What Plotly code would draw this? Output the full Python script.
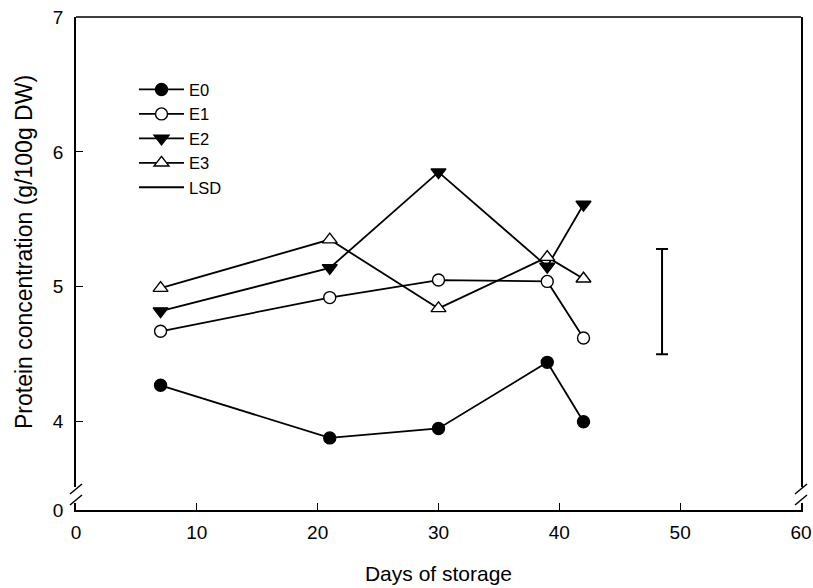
import plotly.graph_objects as go

# Storage time (days) and protein concentration per treatment
days = [7, 21, 30, 39, 42]
e0 = [4.27, 3.88, 3.95, 4.44, 4.00]
e1 = [4.67, 4.92, 5.05, 5.04, 4.62]
e2 = [4.82, 5.14, 5.85, 5.15, 5.61]
e3 = [4.99, 5.35, 4.84, 5.22, 5.06]

# Least significant difference bar
lsd_x = [48.5]
lsd_center = [4.89]
lsd_value = 0.78

x_ticks = [0, 10, 20, 30, 40, 50, 60]
y_ticks = [4, 5, 6, 7]

FONT = "Liberation Sans, Arial, sans-serif"

fig = go.Figure()

series = [
    ("E0", e0, "circle", "black"),
    ("E1", e1, "circle", "white"),
    ("E2", e2, "triangle-down", "black"),
    ("E3", e3, "triangle-up", "white"),
]
for name, vals, sym, fill in series:
    fig.add_trace(go.Scatter(
        x=days, y=vals, name=name, mode="lines+markers",
        line=dict(color="black", width=1.8),
        marker=dict(symbol=sym, size=12 if "circle" in sym else 13, color=fill,
                    line=dict(color="black", width=1.4)),
    ))

fig.add_trace(go.Scatter(
    x=lsd_x, y=lsd_center, name="LSD", mode="lines",
    line=dict(color="black", width=1.8),
    error_y=dict(type="constant", value=lsd_value / 2, color="black",
                 thickness=2, width=6),
))

# empty trace so the short lower axis segment (holding 0) gets drawn
fig.add_trace(go.Scatter(x=[None], y=[None], yaxis="y2", showlegend=False,
                         hoverinfo="skip"))

# axis break marks (paper coordinates)
def px_x(p):
    return (p - 76) / 725

def px_y(p):
    return (510 - p) / 493

shapes = [dict(type="line", xref="paper", yref="paper", x0=0, x1=1, y0=1, y1=1,
               line=dict(color="black", width=1.5))]
for xc in (76, 801):
    for yc in (489, 500):
        shapes.append(dict(type="line", xref="paper", yref="paper",
                           x0=px_x(xc - 6), y0=px_y(yc + 5),
                           x1=px_x(xc + 6), y1=px_y(yc - 5),
                           line=dict(color="black", width=1.5)))

fig.update_layout(
    width=813, height=588,
    margin=dict(l=76, r=12, t=17, b=78, autoexpand=False),
    paper_bgcolor="white", plot_bgcolor="white",
    font=dict(family=FONT, color="black", size=19),
    shapes=shapes,
    showlegend=True,
    legend=dict(x=0.08, y=0.888, xanchor="left", yanchor="top",
                bgcolor="rgba(0,0,0,0)", font=dict(size=16.5),
                tracegroupgap=0, itemwidth=45),
    xaxis=dict(range=[0, 60], tickvals=x_ticks, anchor="y2", automargin=False,
               showline=True, linecolor="black", linewidth=1.5,
               ticks="inside", ticklen=7, tickcolor="black", tickwidth=1.2,
               showgrid=False, zeroline=False, ticklabelstandoff=4,
               title=dict(text="Days of storage", font=dict(size=21), standoff=25)),
    yaxis=dict(domain=[px_y(487), 1], range=[3.516, 7], tickvals=y_ticks,
               anchor="x", automargin=False, showline=True, mirror=True,
               linecolor="black", linewidth=1.5, ticks="inside", ticklen=7,
               tickcolor="black", tickwidth=1.2, showgrid=False, zeroline=False,
               ticklabelstandoff=7,
               title=dict(text="Protein concentration (g/100g DW)",
                          font=dict(size=23), standoff=14)),
    yaxis2=dict(domain=[0, px_y(503)], range=[0, 0.052], tickvals=[0],
                anchor="x", automargin=False, showline=True, mirror=True,
                linecolor="black", linewidth=1.5, ticks="", showgrid=False,
                zeroline=False, ticklabelstandoff=7),
)

fig.write_html("out.html")
